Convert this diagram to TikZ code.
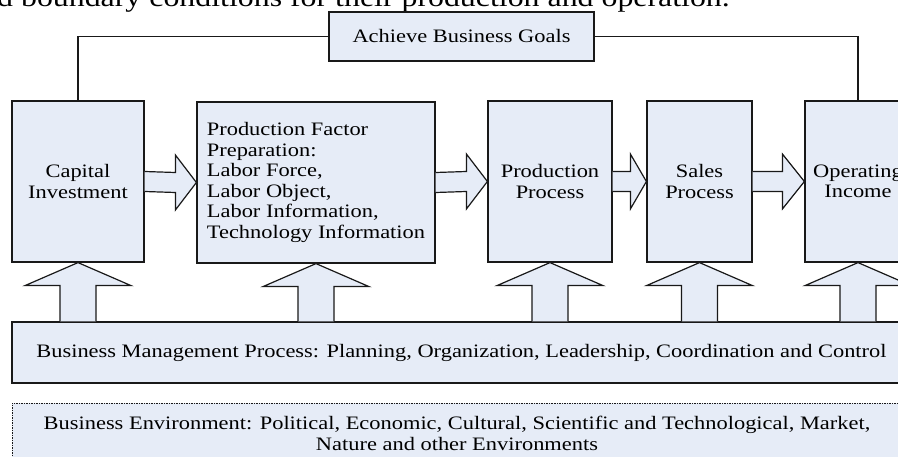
\documentclass[tikz,border=0pt]{standalone}
\usepackage{fontspec}
\setmainfont{Liberation Serif}[FakeStretch=1.18]
\usetikzlibrary{calc}
\definecolor{boxfill}{RGB}{230,236,247}
\definecolor{boxline}{RGB}{25,25,25}

\tikzset{
    block/.style={draw=boxline, fill=boxfill, line width=1.2pt, inner sep=0pt,
        minimum height=161pt, align=center, font=\fontsize{19}{20.5}\selectfont},
    band/.style={draw=boxline, fill=boxfill, line width=1.2pt, inner sep=0pt,
        minimum height=61pt, align=center, font=\fontsize{19}{21}\selectfont},
    bigarrow/.style={draw=boxline, fill=boxfill, line width=1.2pt, line join=miter},
    link/.style={draw=boxline, line width=1.2pt},
}

\begin{document}
\begin{tikzpicture}[x=1pt, y=-1pt]
    \useasboundingbox (0,0) rectangle (898,457);
    \clip (0,0) rectangle (898,457);

    % Line of the running text above the figure (cut by the frame)
    \node [anchor=base west, inner sep=0pt, font=\fontsize{27}{30}\selectfont] (lead) at (-3,6.5)
        {d boundary conditions for their production and operation.};

    % Goal box on top
    \node [band, minimum width=265pt, minimum height=49pt] (ach) at (461.5,36.5) {Achieve Business Goals};

    % Main chain of boxes:
    \node [block, minimum width=132pt] (cap) at (78,181.5)    {Capital\\Investment};
    \node [block, minimum width=238pt, align=left] (pf) at (316,182.5)
        {Production Factor\\Preparation:\\Labor Force,\\Labor Object,\\Labor Information,\\Technology Information};
    \node [block, minimum width=124pt] (pp)  at (550,181.5)   {Production\\Process};
    \node [block, minimum width=105pt] (sal) at (699.5,181.5) {Sales\\Process};
    \node [block, minimum width=106pt] (inc) at (858,181.5)   {Operating\\Income};

    % Management and environment bands:
    \node [band, minimum width=899pt] (bm) at (461.5,352.5)
        {Business Management Process: Planning, Organization, Leadership, Coordination and Control};
    \node [band, minimum width=890pt, line width=0.8pt, dash pattern=on 1.5pt off 1pt] (env) at (457,433.5)
        {Business Environment: Political, Economic, Cultural, Scientific and Technological, Market,\\Nature and other Environments};

    % Feedback lines to the goal box
    \draw [link] (ach.west) -| (cap.north);
    \draw [link] (ach.east) -| (inc.north);

    % Block arrows along the chain (\h = length of the head)
    \foreach \a/\b/\h in {cap/pf/21, pf/pp/21, pp/sal/16, sal/inc/22}{%
        \draw [bigarrow] ($(\a.east)+(0,-10)$) -- ($(\b.west)+(-\h,-10)$) -- ($(\b.west)+(-\h,-27.5)$)
            -- (\b.west) -- ($(\b.west)+(-\h,27.5)$) -- ($(\b.west)+(-\h,10)$) -- ($(\a.east)+(0,10)$);
    }

    % Block arrows from the management band up to each box
    \foreach \t in {cap,pf,pp,sal,inc}{%
        \draw [bigarrow] ($(\t.south |- bm.north)+(-18,0)$) -- ($(\t.south)+(-18,23)$) -- ($(\t.south)+(-53,23)$)
            -- (\t.south) -- ($(\t.south)+(53,23)$) -- ($(\t.south)+(18,23)$) -- ($(\t.south |- bm.north)+(18,0)$);
    }
\end{tikzpicture}
\end{document}
